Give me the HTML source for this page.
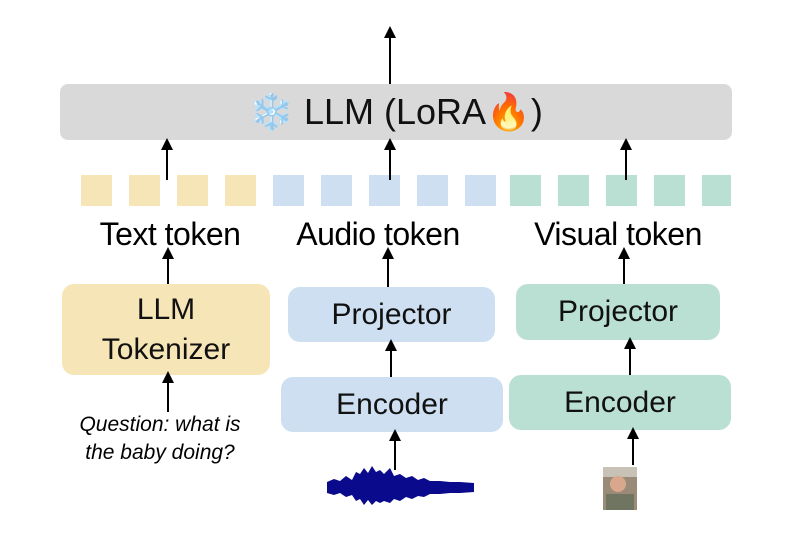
<!DOCTYPE html><html><head><style>
body{margin:0;width:793px;height:548px;background:#fff;position:relative;font-family:"Liberation Sans",sans-serif;overflow:hidden}
.a{position:absolute}
.box{position:absolute;border-radius:12px;display:flex;align-items:center;justify-content:center;text-align:center;color:#111;font-size:30px;line-height:40px}
.sq{position:absolute;top:175px;width:31px;height:31px}
.lbl{position:absolute;font-size:32px;color:#000;white-space:nowrap;transform:translateX(-50%);top:216px;letter-spacing:-0.5px}
</style></head><body>
<div class="box" style="left:60px;top:84px;width:672px;height:56px;background:#d9d9d9;border-radius:8px;font-size:36px">❄️&nbsp;LLM (LoRA🔥)</div>
<div class="sq" style="left:81px;background:#f6e5b6"></div><div class="sq" style="left:129px;background:#f6e5b6"></div><div class="sq" style="left:177px;background:#f6e5b6"></div><div class="sq" style="left:225px;background:#f6e5b6"></div>
<div class="sq" style="left:273px;background:#cddff0"></div><div class="sq" style="left:321px;background:#cddff0"></div><div class="sq" style="left:369px;background:#cddff0"></div><div class="sq" style="left:417px;background:#cddff0"></div><div class="sq" style="left:465px;background:#cddff0"></div>
<div class="sq" style="left:510px;background:#badfd3"></div><div class="sq" style="left:558px;background:#badfd3"></div><div class="sq" style="left:606px;background:#badfd3"></div><div class="sq" style="left:654px;background:#badfd3"></div><div class="sq" style="left:702px;width:29px;background:#badfd3"></div>
<div class="lbl" style="left:170px">Text token</div>
<div class="lbl" style="left:378px">Audio token</div>
<div class="lbl" style="left:618px">Visual token</div>
<div class="box" style="left:62px;top:284px;width:208px;height:91px;background:#f6e5b6">LLM<br>Tokenizer</div>
<div class="box" style="left:288px;top:287px;width:207px;height:55px;background:#cddff0">Projector</div>
<div class="box" style="left:281px;top:377px;width:222px;height:55px;background:#cddff0">Encoder</div>
<div class="box" style="left:516px;top:284px;width:204px;height:56px;background:#badfd3">Projector</div>
<div class="box" style="left:509px;top:375px;width:222px;height:55px;background:#badfd3">Encoder</div>
<div class="a" style="left:50px;top:411px;width:220px;text-align:center;font-style:italic;font-size:21px;line-height:28px">Question: what is<br>the baby doing?</div>
<svg class="a" style="left:0;top:0" width="793" height="548">
<defs><marker id="m" markerWidth="12" markerHeight="12" refX="6" refY="6" orient="auto" markerUnits="userSpaceOnUse"><path d="M0,0L12,6L0,12z" fill="#000"/></marker></defs>
<g stroke="#000" stroke-width="2" marker-end="url(#m)">
<line x1="390" y1="84" x2="390" y2="32"/>
<line x1="167" y1="180" x2="167" y2="144"/>
<line x1="390" y1="180" x2="390" y2="144"/>
<line x1="626" y1="180" x2="626" y2="144"/>
<line x1="168" y1="284" x2="168" y2="253"/>
<line x1="388" y1="287" x2="388" y2="253"/>
<line x1="624" y1="284" x2="624" y2="253"/>
<line x1="391" y1="377" x2="391" y2="345"/>
<line x1="630" y1="375" x2="630" y2="343"/>
<line x1="168" y1="412" x2="168" y2="377"/>
<line x1="395" y1="470" x2="395" y2="435"/>
<line x1="633" y1="465" x2="633" y2="433"/>
</g>
<path d="M327,482 L334,479 340,481 346,476 352,480 356,472 360,474 364,468 368,473 372,466 376,472 380,470 384,474 390,468 394,476 400,474 406,478 412,476 418,480 424,478 430,481 440,481 450,482 460,482 474,483 L474,492 460,493 450,493 440,494 430,494 424,497 418,496 412,499 406,497 400,501 394,499 390,503 384,501 380,503 376,501 372,505 368,500 364,505 360,499 356,501 352,495 346,497 340,493 334,495 327,493z" fill="#0a0a8c"/>
<rect x="603" y="467" width="34" height="43" fill="#9a8a78"/>
<rect x="603" y="467" width="34" height="10" fill="#c8c2b6"/>
<circle cx="618" cy="484" r="8" fill="#d9a88c"/>
<rect x="606" y="494" width="28" height="16" fill="#6f7560"/>
</svg>
</body></html>
